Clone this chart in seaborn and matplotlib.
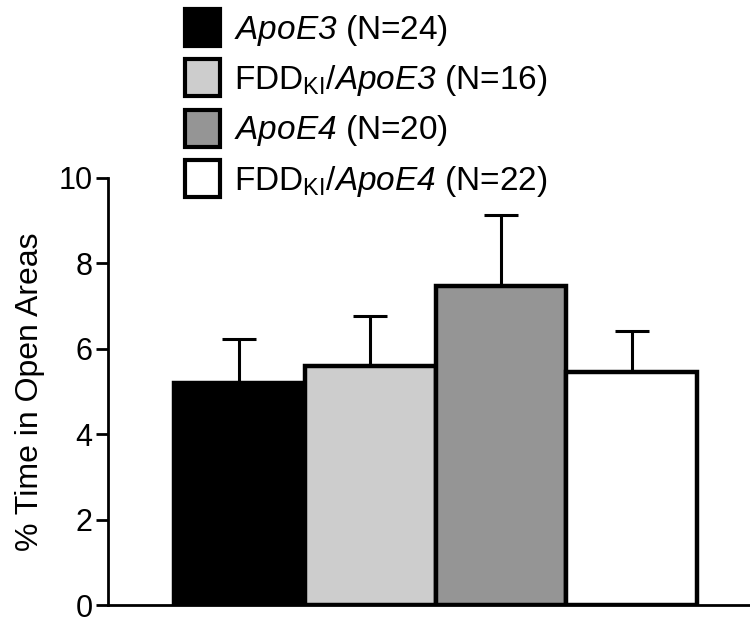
import matplotlib
matplotlib.use("Agg")
import matplotlib.pyplot as plt
import seaborn as sns
import numpy as np
import pandas as pd
from matplotlib.patches import Patch

groups = ["ApoE3", "FDDKI/ApoE3", "ApoE4", "FDDKI/ApoE4"]
means = [5.21, 5.60, 7.47, 5.45]
sems = [1.03, 1.16, 1.66, 0.97]
ns = [24, 16, 20, 22]
colors = ["#000000", "#cdcdcd", "#959595", "#ffffff"]
yticks = [0, 2, 4, 6, 8, 10]

sns.set_theme(style="ticks")
plt.rcParams['font.family'] = ['Liberation Sans', 'DejaVu Sans']
plt.rcParams['mathtext.fontset'] = 'custom'
plt.rcParams['mathtext.rm'] = 'Liberation Sans'
plt.rcParams['mathtext.it'] = 'Liberation Sans:italic'
plt.rcParams['mathtext.sf'] = 'Liberation Sans:italic'
for k in ['text.color', 'axes.labelcolor', 'xtick.color', 'ytick.color', 'axes.edgecolor']:
    plt.rcParams[k] = 'black'

fig = plt.figure(figsize=(7.5, 6.24), dpi=100)
ax = fig.add_axes([0.144, 0.030, 0.856, 0.685])

df = pd.DataFrame({"group": groups, "mean": means})
sns.barplot(data=df, x="group", y="mean", hue="group", palette=colors,
            order=groups, hue_order=groups, legend=False, width=1.0,
            edgecolor="black", linewidth=3.2, ax=ax, zorder=3)

x = np.arange(len(groups))
ax.errorbar(x, means, yerr=[np.zeros(len(sems)), sems], fmt="none",
            ecolor="black", elinewidth=2.2, capsize=12, capthick=2.2, zorder=2)

ax.set_ylim(0, 10)
ax.set_xlim(-1.005, 3.905)
ax.set_yticks(yticks)
ax.set_yticklabels([str(t) for t in yticks], fontsize=22)
ax.set_xticks([])
ax.set_xlabel("")
ax.set_ylabel("% Time in Open Areas", fontsize=23, labelpad=10)
for s in ["top", "right"]:
    ax.spines[s].set_visible(False)
ax.spines["left"].set_linewidth(2.0)
ax.spines["bottom"].set_linewidth(2.0)
ax.tick_params(axis="y", length=9, width=2.0, pad=2, direction="out")

labels = [
    r"$\mathsf{ApoE3}$ (N=%d)" % ns[0],
    r"FDD$_{\rm KI}$/$\mathsf{ApoE3}$ (N=%d)" % ns[1],
    r"$\mathsf{ApoE4}$ (N=%d)" % ns[2],
    r"FDD$_{\rm KI}$/$\mathsf{ApoE4}$ (N=%d)" % ns[3],
]
handles = [Patch(facecolor=c, edgecolor="black", linewidth=3.0) for c in colors]
leg = fig.legend(handles, labels, loc="upper left", bbox_to_anchor=(0.235, 1.0),
                 frameon=False, fontsize=24, handlelength=1.05, handleheight=1.33,
                 handletextpad=0.42, labelspacing=0.35, borderaxespad=0.15,
                 borderpad=0.12)

fig.savefig("out.png", dpi=100)
